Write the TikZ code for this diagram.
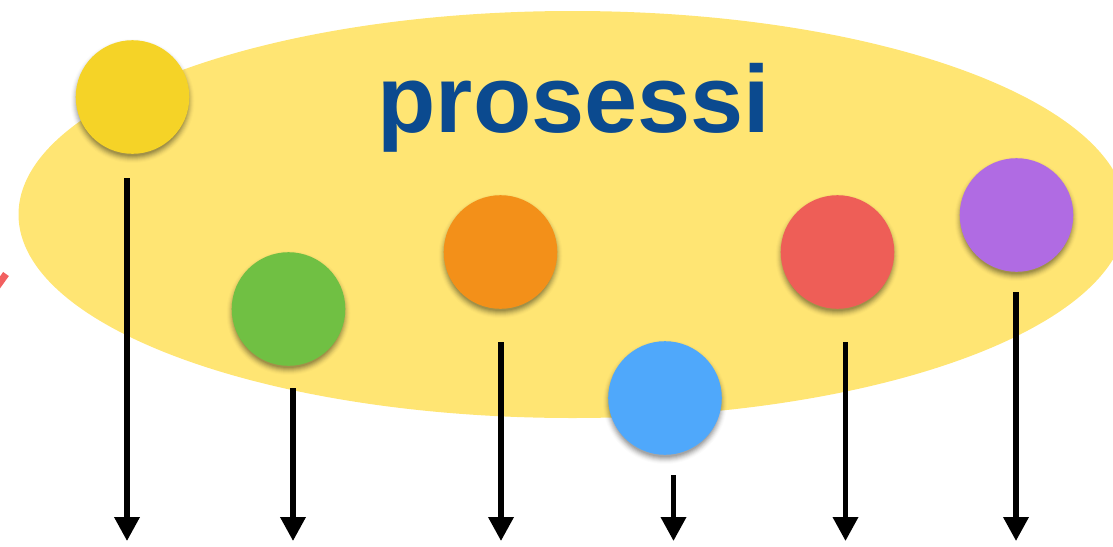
\documentclass[tikz,border=0pt]{standalone}
\usepackage{fontspec}
\setmainfont{Liberation Sans}
\usetikzlibrary{arrows.meta}
\definecolor{blobfill}{HTML}{FFE573}
\definecolor{titleblue}{HTML}{0B4A8F}
\definecolor{cyellow}{HTML}{F5D327}
\definecolor{cgreen}{HTML}{70C043}
\definecolor{corange}{HTML}{F39019}
\definecolor{cblue}{HTML}{4FA8FB}
\definecolor{cred}{HTML}{EE5E57}
\definecolor{cpurple}{HTML}{B06BE3}
\definecolor{stray}{HTML}{F26060}
\tikzset{
  x=1pt,y=-1pt,
  ball/.style={circle,minimum size=113.6pt,inner sep=0pt,outer sep=0pt},
  flow/.style={line width=5.2pt,draw=black,-{Triangle[length=24pt,width=24.5pt]}},
  title/.style={text=titleblue,font=\fontsize{95.5}{96}\selectfont\bfseries,anchor=base,inner sep=0pt}
}
\begin{document}
\begin{tikzpicture}
\useasboundingbox (0,0) rectangle (1113,546);
\clip (0,0) rectangle (1113,546);
\fill[blobfill] (572.5,214.5) ellipse [x radius=554,y radius=203.5];
\draw[stray,line width=7pt] (-4,288) -- (6,274);
\node[title] (label) at (574,132) {prosessi};
% soft shadows
\foreach \cx/\cy in {132.5/97,288.5/309,500.5/252,665/398,837.5/252,1016.5/215}{
  \foreach \r/\o in {62/.015,61/.025,60/.035,59/.05,58/.06,57/.07,56/.08,55/.09}{
    \fill[black,opacity=\o] (\cx,\cy+4) circle [radius=\r];
  }
}
\node[ball,fill=cyellow] (n1) at (132.5,97) {};
\node[ball,fill=cgreen] (n2) at (288.5,309) {};
\node[ball,fill=corange] (n3) at (500.5,252) {};
\node[ball,fill=cblue] (n4) at (665,398) {};
\node[ball,fill=cred] (n5) at (837.5,252) {};
\node[ball,fill=cpurple] (n6) at (1016.5,215) {};
\coordinate (s1) at (127,178); \coordinate (e1) at (127,541);
\coordinate (s2) at (293,388); \coordinate (e2) at (293,541);
\coordinate (s3) at (501,342); \coordinate (e3) at (501,541);
\coordinate (s4) at (673.5,475); \coordinate (e4) at (673.5,541);
\coordinate (s5) at (845.5,342); \coordinate (e5) at (845.5,541);
\coordinate (s6) at (1016,292); \coordinate (e6) at (1016,541);
\foreach \i in {1,...,6}{ \draw[flow] (s\i) -- (e\i); }
\end{tikzpicture}
\end{document}
